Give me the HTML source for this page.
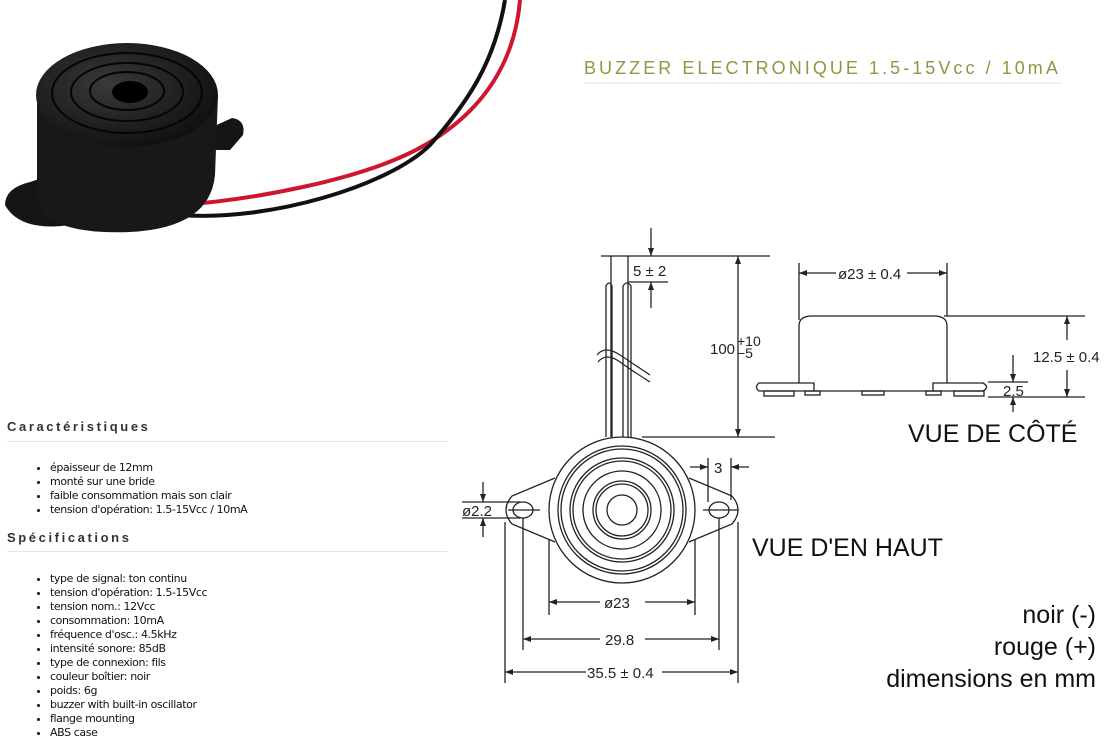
<!DOCTYPE html>
<html><head><meta charset="utf-8"><style>
body{margin:0;width:1106px;height:741px;background:#fff;overflow:hidden;position:relative;font-family:"Liberation Sans",sans-serif}
.h{position:absolute;left:7px;font-weight:bold;font-size:13px;letter-spacing:2.6px;color:#333}
.hr{position:absolute;left:7px;width:440px;border-top:1px solid #e4e4e4}
ul{position:absolute;left:0;margin:0;padding-left:50px;font-size:11px;line-height:14px;color:#111;font-family:"DejaVu Sans","Liberation Sans",sans-serif;letter-spacing:-0.4px}
</style></head><body>
<svg width="1106" height="741" style="position:absolute;left:0;top:0">
<defs><radialGradient id="g" cx="0.4" cy="0.4" r="0.7"><stop offset="0" stop-color="#3a3a3a"/><stop offset="1" stop-color="#0c0c0c"/></radialGradient></defs>
<path d="M520 0 C515 60 485 110 425 145 C365 180 250 200 180 205" stroke="#d01530" stroke-width="4" fill="none"/>
<path d="M505 0 C495 60 470 100 430 145 C390 185 270 222 180 215" stroke="#111" stroke-width="4" fill="none"/>
<path d="M5 205 Q5 188 30 182 L60 172 L70 225 Q20 232 5 205Z" fill="#151515"/>
<path d="M210 128 L232 118 Q246 120 243 135 L230 150 L210 150Z" fill="#151515"/>
<path d="M37 95 L37 200 Q45 235 130 232 Q210 228 215 175 L218 95Z" fill="#181818"/>
<ellipse cx="127" cy="95" rx="91" ry="52" fill="url(#g)"/>
<ellipse cx="127" cy="93" rx="75" ry="40" fill="none" stroke="#050505" stroke-width="2"/>
<ellipse cx="127" cy="92" rx="56" ry="29" fill="none" stroke="#050505" stroke-width="2"/>
<ellipse cx="127" cy="91" rx="37" ry="19" fill="none" stroke="#050505" stroke-width="2"/>
<ellipse cx="130" cy="92" rx="18" ry="11" fill="#000"/>
<text x="584" y="74" font-size="18" letter-spacing="3.05" fill="#8a9a42">BUZZER ELECTRONIQUE 1.5-15Vcc / 10mA</text>
<line x1="584" y1="83" x2="1062" y2="83" stroke="#e6e6e6"/>
<g stroke="#222" stroke-width="1.3" fill="none">
<line x1="601" y1="256" x2="770" y2="256"/>
<line x1="611" y1="256" x2="611" y2="437"/>
<line x1="628" y1="256" x2="628" y2="437"/>
<path d="M606 437 V286 Q609 280 612 286 V437 M623 437 V286 Q627 280 631 286 V437"/>
<path d="M597 355 Q605 345 620 355 T650 375 M598 362 Q606 352 620 362 T650 382" stroke-width="1.2"/>
<line x1="651" y1="228" x2="651" y2="256"/><line x1="628" y1="282" x2="668" y2="282"/><line x1="651" y1="282" x2="651" y2="308"/>
<line x1="738" y1="256" x2="738" y2="437"/><line x1="642" y1="437" x2="775" y2="437"/>
<path d="M555 478 L512 496 Q500 510 512 524 L555 542"/>
<path d="M689 478 L732 496 Q744 510 732 524 L689 542"/>
<circle cx="622" cy="510" r="73"/>
<circle cx="622" cy="510" r="64"/><circle cx="622" cy="510" r="61"/>
<circle cx="622" cy="510" r="52"/><circle cx="622" cy="510" r="49"/>
<circle cx="622" cy="510" r="39"/>
<circle cx="622" cy="510" r="29"/><circle cx="622" cy="510" r="26"/>
<circle cx="622" cy="510" r="15"/>
<ellipse cx="523" cy="510" rx="10" ry="8"/><ellipse cx="719" cy="510" rx="10" ry="8"/>
<line x1="508" y1="510" x2="540" y2="510"/><line x1="703" y1="510" x2="738" y2="510"/>
<line x1="462" y1="502" x2="520" y2="502"/><line x1="462" y1="518" x2="520" y2="518"/>
<line x1="483" y1="482" x2="483" y2="502"/><line x1="483" y1="518" x2="483" y2="537"/>
<line x1="708" y1="458" x2="708" y2="502"/><line x1="731" y1="458" x2="731" y2="500"/>
<line x1="690" y1="467" x2="708" y2="467"/><line x1="731" y1="467" x2="749" y2="467"/>
<line x1="549" y1="540" x2="549" y2="615"/><line x1="695" y1="540" x2="695" y2="615"/>
<line x1="523" y1="518" x2="523" y2="650"/><line x1="719" y1="518" x2="719" y2="650"/>
<line x1="505" y1="522" x2="505" y2="683"/><line x1="738" y1="522" x2="738" y2="683"/>
<line x1="549" y1="602" x2="600" y2="602"/><line x1="645" y1="602" x2="695" y2="602"/>
<line x1="523" y1="639" x2="600" y2="639"/><line x1="645" y1="639" x2="719" y2="639"/>
<line x1="505" y1="672" x2="586" y2="672"/><line x1="662" y1="672" x2="738" y2="672"/>
<path d="M799 383 V326 Q799 316 812 316 H934 Q947 316 947 326 V383"/>
<path d="M759 383 H814 V391 H759 Q754 387 759 383Z"/><path d="M933 383 H983 Q990 387 983 391 H933Z"/>
<line x1="814" y1="391" x2="933" y2="391"/>
<rect x="764" y="391" width="30" height="5"/><rect x="805" y="391" width="15" height="4"/><rect x="862" y="391" width="22" height="4"/><rect x="926" y="391" width="15" height="4"/><rect x="954" y="391" width="30" height="5"/>
<line x1="799" y1="263" x2="799" y2="320"/><line x1="947" y1="263" x2="947" y2="316"/>
<line x1="799" y1="273" x2="836" y2="273"/><line x1="907" y1="273" x2="947" y2="273"/>
<line x1="944" y1="316" x2="1085" y2="316"/><line x1="988" y1="397" x2="1085" y2="397"/>
<line x1="1067" y1="316" x2="1067" y2="340"/><line x1="1067" y1="370" x2="1067" y2="397"/>
<line x1="988" y1="382" x2="1028" y2="382"/><line x1="1013" y1="355" x2="1013" y2="382"/><line x1="1013" y1="397" x2="1013" y2="412"/>
</g>
<g fill="#222">
<path d="M651 256 l-3 -8 h6z M651 282 l-3 8 h6z M738 256 l-3 8 h6z M738 437 l-3 -8 h6z M483 502 l-3 -8 h6z M483 518 l-3 8 h6z M708 467 l-8 -3 v6z M731 467 l8 -3 v6z"/>
<path d="M549 602 l8 -3 v6z M695 602 l-8 -3 v6z M523 639 l8 -3 v6z M719 639 l-8 -3 v6z M505 672 l8 -3 v6z M738 672 l-8 -3 v6z"/>
<path d="M799 273 l8 -3 v6z M947 273 l-8 -3 v6z M1067 316 l-3 8 h6z M1067 397 l-3 -8 h6z M1013 382 l-3 -8 h6z M1013 397 l-3 8 h6z"/>
</g>
<g font-size="15" fill="#222">
<text x="633" y="276">5 ± 2</text>
<text x="710" y="354">100</text><text x="737" y="346" font-size="14">+10</text><text x="737" y="358" font-size="14">−5</text>
<text x="462" y="516">ø2.2</text><text x="714" y="473">3</text>
<text x="604" y="608">ø23</text><text x="605" y="645">29.8</text><text x="587" y="678">35.5 ± 0.4</text>
<text x="838" y="279">ø23 ± 0.4</text><text x="1033" y="362">12.5 ± 0.4</text><text x="1003" y="396">2.5</text>
</g>
<g font-size="25" fill="#111">
<text x="908" y="442">VUE DE CÔTÉ</text>
<text x="752" y="556">VUE D'EN HAUT</text>
</g>
<g font-size="25" fill="#111" text-anchor="end">
<text x="1096" y="623">noir (-)</text><text x="1096" y="655">rouge (+)</text><text x="1096" y="687">dimensions en mm</text>
</g>
</svg>
<div class="h" style="top:419px">Caractéristiques</div><div class="hr" style="top:441px"></div>
<ul style="top:461px"><li>épaisseur de 12mm</li><li>monté sur une bride</li><li>faible consommation mais son clair</li><li>tension d'opération: 1.5-15Vcc / 10mA</li></ul>
<div class="h" style="top:530px">Spécifications</div><div class="hr" style="top:551px"></div>
<ul style="top:572px"><li>type de signal: ton continu</li><li>tension d'opération: 1.5-15Vcc</li><li>tension nom.: 12Vcc</li><li>consommation: 10mA</li><li>fréquence d'osc.: 4.5kHz</li><li>intensité sonore: 85dB</li><li>type de connexion: fils</li><li>couleur boîtier: noir</li><li>poids: 6g</li><li>buzzer with built-in oscillator</li><li>flange mounting</li><li>ABS case</li></ul>
</body></html>
